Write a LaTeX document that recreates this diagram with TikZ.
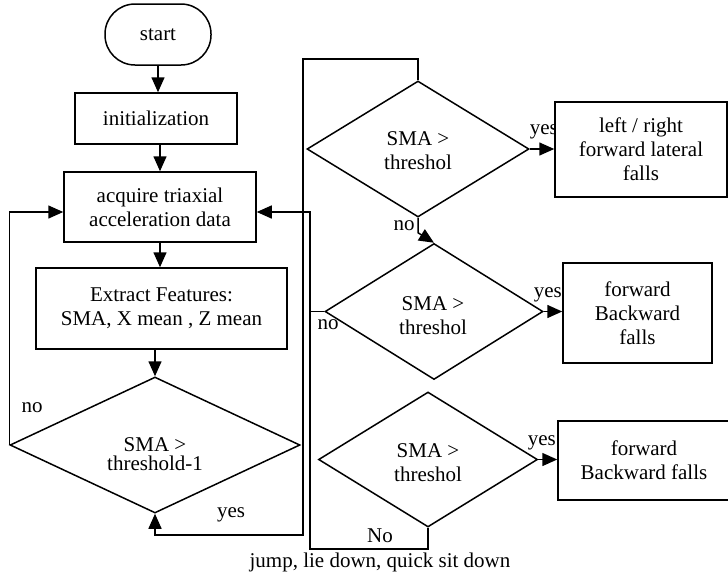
\documentclass[tikz,border=0pt]{standalone}
\usepackage{fontspec}
\setmainfont{Liberation Serif}
\usetikzlibrary{arrows.meta,shapes.geometric}

\begin{document}
\begin{tikzpicture}[x=1pt,y=-1pt,
  every path/.style={line width=1.5pt},
  txt/.style={font=\fontsize{21}{24}\selectfont, inner sep=0pt, align=center},
  boxnode/.style={draw, fill=white, txt},
  decision/.style={draw, diamond, inner sep=0pt},
  arr/.style={-{Triangle[length=15pt,width=13pt]}}]

\useasboundingbox (0,0) rectangle (728,574);

% main column
\node[boxnode, rounded corners=30pt, minimum width=106pt, minimum height=61pt] (start) at (158,34.5) {start};
\node[boxnode, minimum width=162pt, minimum height=51pt] (init) at (156,118.5) {initialization};
\node[boxnode, minimum width=192pt, minimum height=70pt] (acq) at (160,207) {acquire triaxial\\acceleration data};
\node[boxnode, minimum width=251pt, minimum height=81pt] (ext) at (161.5,308.5) {Extract Features:\\SMA, X mean , Z mean};
\node[decision, minimum width=290pt, minimum height=136pt] (d0) at (155,445) {};
\node[txt, font=\fontsize{21}{19}\selectfont] (d0t) at (155,454) {SMA >\\threshold-1};

% decision chain on the right
\node[decision, minimum width=222pt, minimum height=136pt] (d1) at (418,149) {};
\node[txt] (d1t) at (418,151) {SMA >\\threshol};
\node[decision, minimum width=218pt, minimum height=136pt] (d2) at (434,311.5) {};
\node[txt] (d2t) at (433,316) {SMA >\\threshol};
\node[decision, minimum width=219pt, minimum height=135pt] (d3) at (428,459.5) {};
\node[txt] (d3t) at (428,463) {SMA >\\threshol};

% branch labels (the boxes are drawn over the first one)
\node[txt, anchor=west] (y1) at (529,132) {yes};
\node[txt, anchor=west] (y2) at (533,295) {yes};
\node[txt, anchor=west] (y3) at (527,443) {yes};
\node[txt] (n0) at (32,408) {no};
\node[txt] (y0) at (231,515) {yes};
\node[txt] (n1) at (404,226) {no};
\node[txt] (n2) at (328,325) {no};
\node[txt] (n3) at (380,536) {No};
\node[txt] (other) at (380,562) {jump, lie down, quick sit down};

% outcome boxes
\node[boxnode, minimum width=172pt, minimum height=95pt] (b1) at (641,149.5) {left / right\\forward lateral\\falls};
\node[boxnode, minimum width=149pt, minimum height=100pt] (b2) at (637.5,313) {forward\\Backward\\falls};
\node[boxnode, minimum width=172pt, minimum height=79pt] (b3) at (644,460.5) {forward\\Backward falls};

% routing points
\coordinate (loopY) at (0,212);
\coordinate (aTop) at (303,59);
\coordinate (aBot) at (303,535);
\coordinate (bTop) at (310,212);
\coordinate (bBot) at (310,549);

% main column arrows
\draw[arr] (start.south) -- (start.south |- init.north);
\draw[arr] (acq.north |- init.south) -- (acq.north);
\draw[arr] (acq.south) -- (acq.south |- ext.north);
\draw[arr] (d0.north |- ext.south) -- (d0.north);

% no: back to acquisition
\draw[arr] (d0.west) -- (d0.west |- loopY) -- (acq.west |- loopY);

% yes: on to the fall classifier
\draw[arr] (d1.north) |- (aTop) -- (aBot) -| (d0.south);

% classifier branches
\draw[arr] (d1.east) -- (d1.east -| b1.west);
\draw[arr] (d2.east) -- (d2.east -| b2.west);
\draw[arr] (d3.east) -- (d3.east -| b3.west);
\draw[arr] (d1.south) -- ++(0,15) -- (d2.north);

% rejected candidates return to acquisition
\draw[arr] (d3.south) |- (bBot) -- (bTop) -- (acq.east |- bTop);
\draw (d2.west) -- (d2.west -| bTop);

\end{tikzpicture}
\end{document}
